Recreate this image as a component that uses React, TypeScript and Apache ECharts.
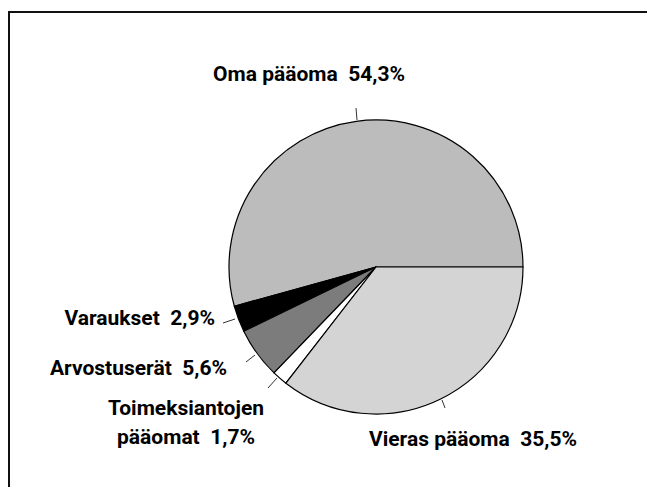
import React, { useEffect, useRef } from "react";
import * as echarts from "echarts";

const names = ["Oma pääoma", "Varaukset", "Arvostuserät", "Toimeksiantojen\npääomat", "Vieras pääoma"];
const values = [54.3, 2.9, 5.6, 1.7, 35.5];
const colors = ["#bcbcbc", "#000000", "#7c7c7c", "#ffffff", "#d4d4d4"];

// label anchor positions (x, y, align)
const labelPos: [number, number, string][] = [
  [309, 74, "center"],
  [215, 318, "right"],
  [227, 368, "right"],
  [186, 422, "center"],
  [369, 439, "left"],
];

// small tick marks drawn next to the slices
const ticks: [number, number, number, number][] = [
  [356, 108, 357, 120],
  [223, 323, 235, 319],
  [246, 362, 255, 355],
  [268, 388, 277, 378],
  [442, 400, 445, 408],
];

const FONT = "Roboto, 'Liberation Sans', Arial, sans-serif";

export default function App() {
  const ref = useRef<HTMLDivElement>(null);
  useEffect(() => {
    if (!ref.current) return;
    const chart = echarts.init(ref.current, null, { renderer: "svg" });
    chart.setOption({
      animation: false,
      backgroundColor: "#ffffff",
      graphic: [
        { type: "line", shape: { x1: 9, y1: 12, x2: 9, y2: 487 }, style: { stroke: "#111", lineWidth: 2 } },
        { type: "line", shape: { x1: 8, y1: 12, x2: 647, y2: 12 }, style: { stroke: "#111", lineWidth: 2 } },
        ...ticks.map((t) => ({
          type: "line",
          shape: { x1: t[0], y1: t[1], x2: t[2], y2: t[3] },
          style: { stroke: "#333", lineWidth: 1 },
        })),
      ],
      series: [
        {
          type: "pie",
          center: [376, 267],
          radius: [0, 147],
          startAngle: 0,
          clockwise: false,
          avoidLabelOverlap: false,
          data: names.map((n, i) => ({
            name: n,
            value: values[i],
            itemStyle: { color: colors[i] },
          })),
          itemStyle: { borderColor: "#000", borderWidth: 1.2 },
          label: {
            show: true,
            position: "outside",
            fontFamily: FONT,
            fontWeight: "bold",
            fontSize: 21,
            lineHeight: 29,
            color: "#000",
            formatter: (p: any) => `${p.name}  ${String(p.value).replace(".", ",")}%`,
          },
          labelLine: { show: false },
          labelLayout: (p: any) => {
            const lp = labelPos[p.dataIndex];
            return { x: lp[0], y: lp[1], align: lp[2], verticalAlign: "middle" };
          },
          emphasis: { disabled: true },
        },
      ],
    });
    return () => chart.dispose();
  }, []);
  return <div ref={ref} style={{ position: "fixed", left: 0, top: 0, width: 647, height: 487 }} />;
}
